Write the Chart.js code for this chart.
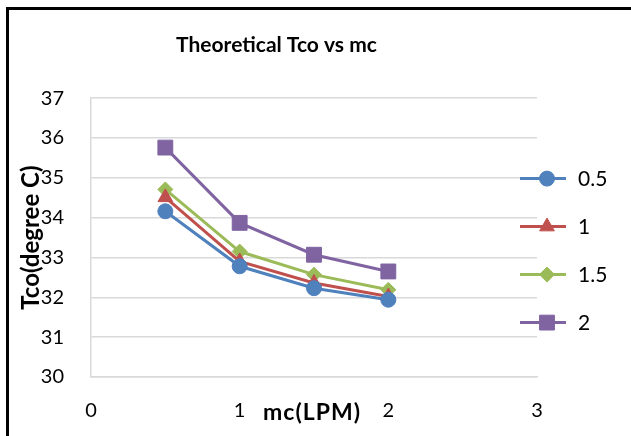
<!DOCTYPE html>
<html><head><meta charset="utf-8">
<script src="https://cdn.jsdelivr.net/npm/chart.js@4/dist/chart.umd.min.js"></script>
<style>
html,body{margin:0;padding:0;background:#fff;overflow:hidden;}
#frame{position:absolute;left:6px;top:7px;width:700px;height:500px;border-left:3px solid #000;border-top:3px solid #000;box-sizing:border-box;}
#wrap{position:absolute;left:0;top:0;width:631px;height:436px;}
</style></head><body>
<div id="frame"></div>
<div id="wrap"><canvas id="c" width="631" height="436"></canvas></div>
<script>
const xValues = [0.5, 1, 1.5, 2];
const seriesNames = ['0.5', '1', '1.5', '2'];
const series05 = [34.16, 32.78, 32.23, 31.94];
const series1 = [34.51, 32.90, 32.36, 32.02];
const series15 = [34.71, 33.15, 32.57, 32.19];
const series2 = [35.76, 33.87, 33.07, 32.65];
const xTicks = [0, 1, 2, 3];
const yTicks = [30, 31, 32, 33, 34, 35, 36, 37];
const chartTitle = 'Theoretical Tco vs mc';
const xTitle = 'mc(LPM)';
const yTitle = 'Tco(degree C)';

const FONT = "Lato, 'Liberation Sans', sans-serif";
const colors = ['#4F81BD', '#C0504D', '#9BBB59', '#8064A2'];
const styles = ['circle', 'triangle', 'rectRot', 'rect'];
const radii = [7.5, 8.5, 7.5, 10.5];
const allSeries = [series05, series1, series15, series2];

const datasets = allSeries.map((vals, i) => ({
  label: seriesNames[i],
  data: vals.map((v, j) => ({x: xValues[j], y: v})),
  borderColor: colors[i],
  backgroundColor: colors[i],
  pointBackgroundColor: colors[i],
  pointBorderColor: colors[i],
  pointStyle: styles[i],
  pointRadius: radii[i],
  pointBorderWidth: 1,
  borderWidth: 3,
  tension: 0,
  fill: false
}));

const overlayPlugin = {
  id: 'overlay',
  afterDraw(chart) {
    const ctx = chart.ctx;
    const ca = chart.chartArea;
    // axis titles
    ctx.save();
    ctx.fillStyle = '#000';
    ctx.textAlign = 'center';
    ctx.textBaseline = 'middle';
    ctx.font = "bold 23px " + FONT;
    if ('letterSpacing' in ctx) ctx.letterSpacing = '1px';
    ctx.fillText(xTitle, (ca.left + ca.right) / 2 - 2, ca.bottom + 36);
    ctx.restore();

    ctx.save();
    ctx.fillStyle = '#000';
    ctx.textAlign = 'center';
    ctx.textBaseline = 'middle';
    ctx.font = "bold 24px " + FONT;
    ctx.translate(ca.left - 60, (ca.top + ca.bottom) / 2);
    ctx.rotate(-Math.PI / 2);
    ctx.fillText(yTitle, 0, 0);
    ctx.restore();

    // legend
    const cy = (ca.top + ca.bottom) / 2 + 13;
    chart.data.datasets.forEach((ds, i) => {
      const y = cy + (i - 1.5) * 48;
      const x0 = ca.right - 17, x1 = ca.right + 29, xm = ca.right + 10;
      ctx.save();
      ctx.strokeStyle = ds.borderColor;
      ctx.lineWidth = 3;
      ctx.beginPath(); ctx.moveTo(x0, y); ctx.lineTo(x1, y); ctx.stroke();
      ctx.fillStyle = ds.pointBackgroundColor;
      ctx.strokeStyle = ds.pointBorderColor;
      ctx.lineWidth = 1;
      Chart.helpers.drawPoint(ctx, {pointStyle: ds.pointStyle, radius: ds.pointRadius, borderWidth: 1, rotation: 0}, xm, y);
      ctx.fillStyle = '#000';
      ctx.font = "21px " + FONT;
      ctx.textBaseline = 'middle';
      ctx.textAlign = 'left';
      ctx.fillText(ds.label, ca.right + 41, y + 1);
      ctx.restore();
    });
  }
};

new Chart(document.getElementById('c'), {
  type: 'line',
  data: {datasets},
  plugins: [overlayPlugin],
  options: {
    responsive: false,
    devicePixelRatio: 1,
    animation: false,
    layout: {padding: {left: 16, right: 94, top: 0, bottom: 0}},
    plugins: {
      legend: {display: false},
      tooltip: {enabled: false},
      title: {
        display: true,
        text: chartTitle,
        color: '#000',
        font: {family: FONT, size: 21, weight: 'bold'},
        padding: {top: 33, bottom: 40}
      }
    },
    scales: {
      x: {
        type: 'linear',
        min: xTicks[0], max: xTicks[xTicks.length - 1],
        afterBuildTicks: (s) => { s.ticks = xTicks.map(v => ({value: v})); },
        afterFit: (s) => { s.height = 59; },
        grid: {display: false, drawTicks: false},
        border: {display: true, color: '#d9d9d9', width: 1.5},
        ticks: {color: '#000', font: {family: FONT, size: 20}, padding: 22}
      },
      y: {
        min: yTicks[0], max: yTicks[yTicks.length - 1],
        afterBuildTicks: (s) => { s.ticks = yTicks.map(v => ({value: v})); },
        afterFit: (s) => { s.width = 75; },
        grid: {color: '#d9d9d9', lineWidth: 1.5, drawTicks: false},
        border: {display: true, color: '#d9d9d9', width: 1.5},
        ticks: {color: '#000', font: {family: FONT, size: 20}, padding: 27}
      }
    }
  }
});
</script>
</body></html>
